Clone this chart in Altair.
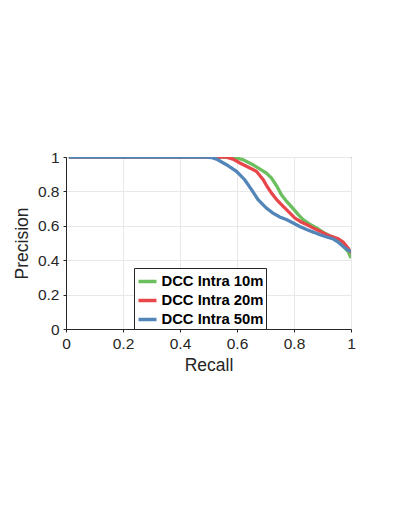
import altair as alt
import pandas as pd

series_names = ["DCC Intra 10m", "DCC Intra 20m", "DCC Intra 50m"]
colors = ["#6cbf5f", "#e8464b", "#5386b8"]

recall_10 = [0.01, 0.3, 0.5, 0.586, 0.62, 0.656, 0.703, 0.721, 0.74, 0.756, 0.775, 0.797, 0.815, 0.832, 0.855, 0.879, 0.91, 0.938, 0.96, 0.973, 0.99, 1.0]
prec_10 = [1.0, 1.0, 1.0, 1.0, 0.985, 0.955, 0.907, 0.878, 0.83, 0.78, 0.74, 0.70, 0.665, 0.636, 0.61, 0.587, 0.555, 0.529, 0.505, 0.48, 0.45, 0.413]

recall_20 = [0.01, 0.3, 0.5, 0.56, 0.586, 0.61, 0.633, 0.668, 0.692, 0.705, 0.721, 0.74, 0.762, 0.785, 0.803, 0.825, 0.844, 0.87, 0.891, 0.915, 0.938, 0.955, 0.973, 0.99, 1.0]
prec_20 = [1.0, 1.0, 1.0, 1.0, 0.988, 0.965, 0.946, 0.917, 0.868, 0.83, 0.79, 0.75, 0.713, 0.675, 0.645, 0.622, 0.607, 0.585, 0.568, 0.548, 0.535, 0.525, 0.505, 0.47, 0.442]

recall_50 = [0.01, 0.3, 0.49, 0.51, 0.528, 0.563, 0.598, 0.627, 0.651, 0.674, 0.703, 0.725, 0.75, 0.775, 0.797, 0.82, 0.844, 0.87, 0.891, 0.915, 0.938, 0.955, 0.973, 0.99, 1.0]
prec_50 = [1.0, 1.0, 1.0, 0.997, 0.988, 0.955, 0.917, 0.868, 0.81, 0.752, 0.703, 0.675, 0.651, 0.635, 0.616, 0.596, 0.578, 0.562, 0.548, 0.535, 0.523, 0.505, 0.48, 0.458, 0.45]

rows = []
for name, rs, ps in zip(series_names, [recall_10, recall_20, recall_50], [prec_10, prec_20, prec_50]):
    for i, (r, p) in enumerate(zip(rs, ps)):
        rows.append({"series": name, "recall": r, "precision": p, "order": i})
df = pd.DataFrame(rows)

ticks = [0, 0.2, 0.4, 0.6, 0.8, 1]

chart = alt.Chart(df).mark_line(strokeWidth=3.3, clip=True).encode(
    x=alt.X("recall:Q", scale=alt.Scale(domain=[0, 1], nice=False),
            axis=alt.Axis(title="Recall", values=ticks, format="~g", labelFlush=False)),
    y=alt.Y("precision:Q", scale=alt.Scale(domain=[0, 1], nice=False),
            axis=alt.Axis(title="Precision", values=ticks, format="~g")),
    color=alt.Color("series:N", scale=alt.Scale(domain=series_names, range=colors),
                    legend=alt.Legend(title=None, orient="none", legendX=68, legendY=111,
                                      symbolType="stroke", symbolSize=324, symbolStrokeWidth=3.5,
                                      labelFont="Liberation Sans", labelFontSize=14.8, labelFontWeight="bold",
                                      labelColor="#000000", strokeColor="#262626", fillColor="white",
                                      padding=2.5, rowPadding=1, labelOffset=3)),
    order="order:Q",
).properties(
    width=285, height=172,
    autosize=alt.AutoSizeParams(type="none"),
    padding={"left": 58, "top": 149, "right": 40, "bottom": 150},
).configure_view(
    stroke="#262626", strokeWidth=1
).configure_axis(
    grid=True, gridColor="#e8e8e8", gridWidth=1,
    domainColor="#262626", tickColor="#262626", tickSize=3,
    labelFont="Liberation Sans", labelFontSize=15.5, labelColor="#262626",
    titleFont="Liberation Sans", titleFontSize=17.5, titleFontWeight="normal", titleColor="#262626",
).configure_axisX(
    labelPadding=4, titlePadding=5
).configure_axisY(
    labelPadding=4, titlePadding=6
)

chart.save("out.html", embed_options={"renderer": "svg", "actions": False})
